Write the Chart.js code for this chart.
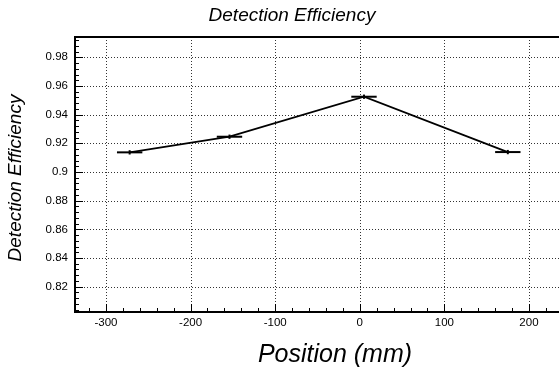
<!DOCTYPE html>
<html>
<head>
<meta charset="utf-8">
<script src="https://cdn.jsdelivr.net/npm/chart.js@4.4.1/dist/chart.umd.min.js"></script>
<style>
  body { margin: 0; background: #fff; }
</style>
</head>
<body>
<canvas id="effChart" width="559" height="369"></canvas>
<script>
// measured points (position in mm, efficiency)
const positions = [-272, -154, 5, 175];
const efficiency = [0.9137, 0.9246, 0.9525, 0.9139];
const positionErr = [15, 15, 15, 15];
const efficiencyErr = [0.0015, 0.0015, 0.0015, 0.0015];

// axis ticks
const xTicks = [-300, -200, -100, 0, 100, 200];
const yTicks = [0.82, 0.84, 0.86, 0.88, 0.9, 0.92, 0.94, 0.96, 0.98];
const xMinorStep = 20;
const yMinorStep = 0.004;

const FONT = '"Liberation Sans", Arial, sans-serif';

function line(ctx, x1, y1, x2, y2) {
  ctx.beginPath();
  ctx.moveTo(x1, y1);
  ctx.lineTo(x2, y2);
  ctx.stroke();
}

// root style frame, dotted grid, inward ticks, error bars and titles
const rootStyle = {
  id: "rootStyle",
  beforeDatasetsDraw(chart) {
    const { ctx, chartArea: a, scales: { x, y } } = chart;
    ctx.save();
    ctx.strokeStyle = "#333";
    ctx.lineWidth = 1;
    ctx.setLineDash([1, 2]);
    xTicks.forEach(v => {
      const px = Math.round(x.getPixelForValue(v)) + 0.5;
      line(ctx, px, a.top, px, a.bottom);
    });
    yTicks.forEach(v => {
      const py = Math.round(y.getPixelForValue(v)) + 0.5;
      line(ctx, a.left, py, a.right, py);
    });
    ctx.restore();
  },
  afterDatasetsDraw(chart) {
    const { ctx, chartArea: a, scales: { x, y } } = chart;
    ctx.save();
    ctx.strokeStyle = "#000";

    // error bars
    ctx.lineWidth = 2;
    for (let i = 0; i < positions.length; i++) {
      const px = x.getPixelForValue(positions[i]);
      const py = y.getPixelForValue(efficiency[i]);
      line(ctx, x.getPixelForValue(positions[i] - positionErr[i]), py,
                x.getPixelForValue(positions[i] + positionErr[i]), py);
      line(ctx, px, y.getPixelForValue(efficiency[i] - efficiencyErr[i]),
                px, y.getPixelForValue(efficiency[i] + efficiencyErr[i]));
    }

    // ticks (pointing inward)
    ctx.lineWidth = 1;
    for (let v = -340; v <= 240; v += xMinorStep) {
      if (v < x.min || v > x.max) continue;
      const px = Math.round(x.getPixelForValue(v)) + 0.5;
      const major = v % 100 === 0;
      line(ctx, px, a.bottom, px, a.bottom - (major ? 8 : 4));
    }
    for (let k = 0; k * yMinorStep + 0.8 <= y.max; k++) {
      const v = 0.8 + k * yMinorStep;
      if (v < y.min) continue;
      const py = Math.round(y.getPixelForValue(v)) + 0.5;
      const major = k % 5 === 0;
      line(ctx, a.left, py, a.left + (major ? 8 : 4), py);
    }

    // frame
    ctx.lineWidth = 2;
    ctx.beginPath();
    ctx.moveTo(a.right, a.top);
    ctx.lineTo(a.left, a.top);
    ctx.lineTo(a.left, a.bottom);
    ctx.lineTo(a.right, a.bottom);
    ctx.stroke();

    // titles
    ctx.fillStyle = "#000";
    ctx.textAlign = "center";
    ctx.textBaseline = "alphabetic";
    ctx.font = "italic 19px " + FONT;
    ctx.fillText("Detection Efficiency", 292, 21);
    ctx.font = "italic 25px " + FONT;
    ctx.fillText("Position (mm)", 335, 362);
    ctx.translate(21, 178);
    ctx.rotate(-Math.PI / 2);
    ctx.font = "italic 19px " + FONT;
    ctx.fillText("Detection Efficiency", 0, 0);
    ctx.restore();
  }
};

const points = positions.map((p, i) => ({ x: p, y: efficiency[i] }));

new Chart(document.getElementById("effChart"), {
  type: "scatter",
  data: {
    datasets: [{
      data: points,
      showLine: true,
      borderColor: "#000",
      borderWidth: 1.8,
      pointRadius: 0,
      tension: 0
    }]
  },
  options: {
    responsive: false,
    animation: false,
    layout: { padding: { top: 37, left: 0, right: 0, bottom: 0 } },
    plugins: {
      legend: { display: false },
      tooltip: { enabled: false },
      title: { display: false }
    },
    scales: {
      x: {
        type: "linear",
        min: -336.6,
        max: 235.5,
        grid: { display: false, drawTicks: false },
        border: { display: false },
        afterBuildTicks: s => { s.ticks = xTicks.map(v => ({ value: v })); },
        afterFit: s => { s.height = 57; },
        ticks: {
          color: "#000",
          padding: 4,
          maxRotation: 0,
          font: { family: FONT, size: 11.5 },
          callback: v => String(v)
        }
      },
      y: {
        type: "linear",
        min: 0.80235,
        max: 0.99416,
        grid: { display: false, drawTicks: false },
        border: { display: false },
        afterBuildTicks: s => { s.ticks = yTicks.map(v => ({ value: v })); },
        afterFit: s => { s.width = 75; },
        ticks: {
          color: "#000",
          padding: 7,
          font: { family: FONT, size: 11.5 },
          callback: v => String(+v.toFixed(2))
        }
      }
    }
  },
  plugins: [rootStyle]
});
</script>
</body>
</html>
